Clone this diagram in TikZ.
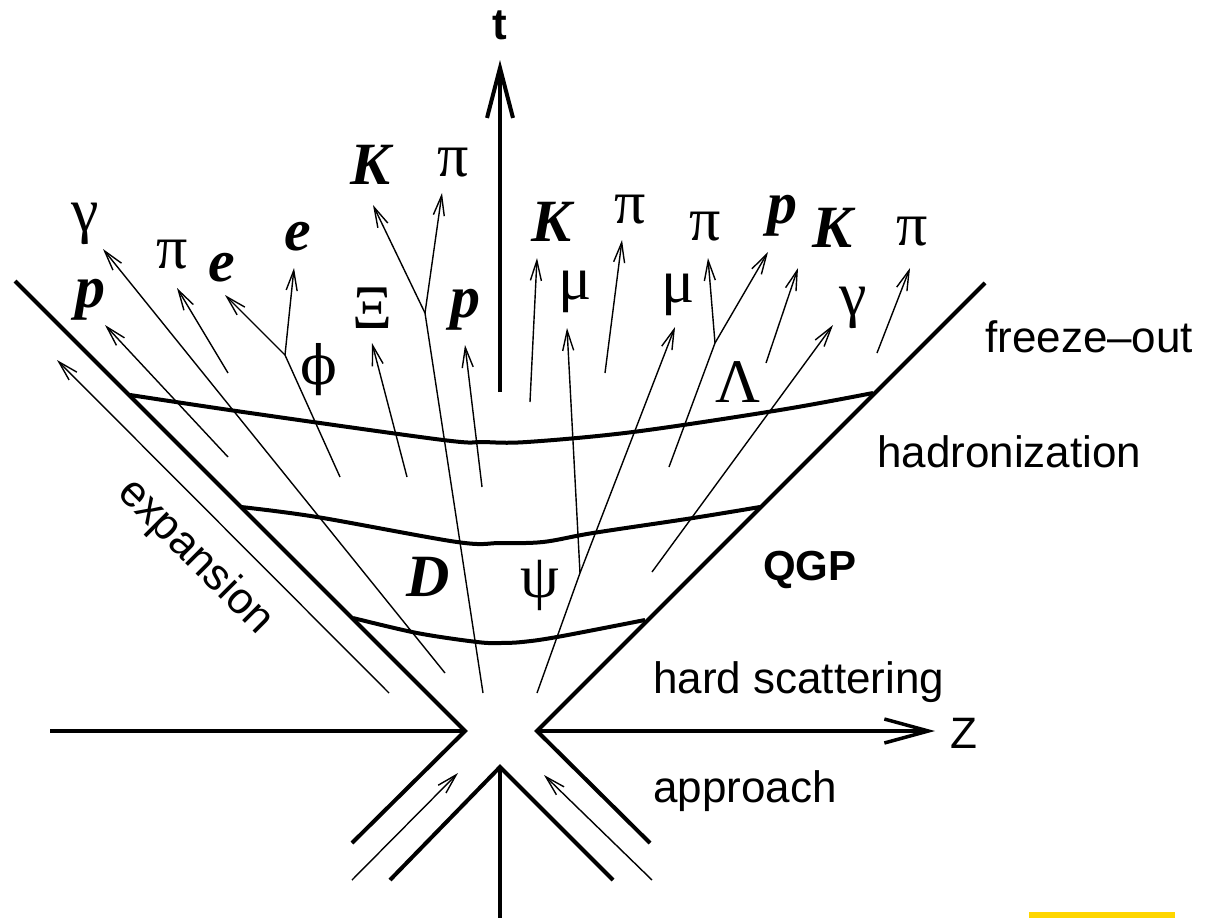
\documentclass[tikz,border=0pt]{standalone}
\usepackage{fontspec}
\setmainfont{Liberation Serif}
\setsansfont{Liberation Sans}
\newfontfamily\dvserif{DejaVu Serif}
\usetikzlibrary{arrows.meta}
\definecolor{gold}{RGB}{255,214,0}
\begin{document}
\begin{tikzpicture}[x=1pt,y=-1pt,
  wall/.style={line width=4pt},
  phase/.style={line width=4pt, smooth, tension=0.55},
  track/.style={line width=1.4pt},
  part/.style={line width=1.4pt, -{Straight Barb[length=20pt,width=11pt]}},
  greek/.style={font=\fontsize{62}{62}\selectfont, inner sep=0pt},
  bit/.style={font=\fontsize{60}{60}\selectfont\bfseries\itshape, inner sep=0pt},
  txt/.style={font=\sffamily\fontsize{44}{44}\selectfont, inner sep=0pt, anchor=base west}]
\useasboundingbox (0,0) rectangle (1205,918);
\fill[white] (0,0) rectangle (1205,918);
\fill[gold] (1029,912) rectangle (1175,918);

% axes
\coordinate (tb) at (500,392); \coordinate (tt) at (500,60);
\draw[line width=4pt, -{Straight Barb[length=50pt,width=26pt]}] (tb) -- (tt);
\node[font=\sffamily\bfseries\fontsize{44}{44}\selectfont, inner sep=0pt] (tlab) at (500,25) {t};
\coordinate (zl) at (50,731); \coordinate (zc1) at (465,731);
\coordinate (zc2) at (537,731); \coordinate (zt) at (935,731);
\draw[line width=3.5pt] (zl) -- (zc1);
\draw[line width=3.5pt, -{Straight Barb[length=44pt,width=24pt]}] (zc2) -- (zt);
\node[font=\sffamily\fontsize{44}{44}\selectfont, inner sep=0pt] (zlab) at (964,733) {Z};

% light cone
\coordinate (ltop) at (15,281); \coordinate (rtop) at (985,283);
\coordinate (lbot) at (352,843); \coordinate (rbot) at (650,843);
\draw[wall] (ltop) -- (zc1) -- (lbot);
\draw[wall] (rtop) -- (zc2) -- (rbot);
\coordinate (apex) at (500,767);
\coordinate (al) at (390,880); \coordinate (ar) at (613,880); \coordinate (ab) at (500,918);
\draw[wall] (al) -- (apex) -- (ar);
\draw[wall] (apex) -- (ab);

% phase boundaries
\draw[phase] plot coordinates {(130,395) (250,413) (443,440) (483,442) (527,442) (633,432) (780,410) (873,393)};
\draw[phase] plot coordinates {(241,507) (317,517) (457,542) (500,543) (543,542) (593,533) (693,518) (760,507)};
\draw[phase] plot coordinates {(353,618) (417,633) (477,642) (500,643) (522,642) (557,637) (645,620)};

% expansion / approach arrows
\coordinate (ex1) at (389,693); \coordinate (ex2) at (57,360);
\draw[part] (ex1) -- (ex2);
\coordinate (ap1) at (352,880); \coordinate (ap2) at (458,773);
\draw[part] (ap1) -- (ap2);
\coordinate (ap3) at (652,880); \coordinate (ap4) at (544,775);
\draw[part] (ap3) -- (ap4);

% particle tracks
\coordinate (g1) at (445,673); \coordinate (g2) at (103,249);
\draw[part] (g1) -- (g2);
\coordinate (p1) at (228,457); \coordinate (p2) at (105,325);
\draw[part] (p1) -- (p2);
\coordinate (pi1) at (228,373); \coordinate (pi2) at (177,288);
\draw[part] (pi1) -- (pi2);
\coordinate (phi0) at (340,477); \coordinate (phiv) at (285,355);
\draw[track] (phi0) -- (phiv);
\coordinate (e1) at (225,295); \coordinate (e2) at (294,268);
\draw[part] (phiv) -- (e1);
\draw[part] (phiv) -- (e2);
\coordinate (xi1) at (407,477); \coordinate (xi2) at (372,343);
\draw[part] (xi1) -- (xi2);
\coordinate (d0) at (483,693); \coordinate (dv) at (425,313);
\draw[track] (d0) -- (dv);
\coordinate (k1) at (373,205); \coordinate (pi3) at (442,193);
\draw[part] (dv) -- (k1);
\draw[part] (dv) -- (pi3);
\coordinate (pc1) at (482,487); \coordinate (pc2) at (465,345);
\draw[part] (pc1) -- (pc2);
\coordinate (kc1) at (530,402); \coordinate (kc2) at (537,258);
\draw[part] (kc1) -- (kc2);
\coordinate (psi0) at (537,693); \coordinate (psiv) at (580,573);
\draw[track] (psi0) -- (psiv);
\coordinate (mu1) at (567,328); \coordinate (mu2) at (675,327);
\draw[part] (psiv) -- (mu1);
\draw[part] (psiv) -- (mu2);
\coordinate (pi4a) at (605,373); \coordinate (pi4b) at (622,240);
\draw[part] (pi4a) -- (pi4b);
\coordinate (lam0) at (669,467); \coordinate (lamv) at (715,343);
\draw[track] (lam0) -- (lamv);
\coordinate (pi5) at (708,258); \coordinate (pr) at (768,252);
\draw[part] (lamv) -- (pi5);
\draw[part] (lamv) -- (pr);
\coordinate (kr1) at (766,363); \coordinate (kr2) at (798,268);
\draw[part] (kr1) -- (kr2);
\coordinate (gr1) at (652,572); \coordinate (gr2) at (833,325);
\draw[part] (gr1) -- (gr2);
\coordinate (pif1) at (877,353); \coordinate (pif2) at (910,268);
\draw[part] (pif1) -- (pif2);

% particle labels
\node[greek] (lgam) at (85,224) {γ};
\node[bit] (lp) at (90,300) {p};
\node[greek] (lpi) at (172,255) {π};
\node[bit] (le1) at (222,268) {e};
\node[bit] (le2) at (298,237) {e};
\node[greek, font=\dvserif\fontsize{54}{54}\selectfont] (lphi) at (319,370) {ϕ};
\node[greek] (lxi) at (372,308) {Ξ};
\node[bit] (lk1) at (371,165) {K};
\node[greek] (lpi2) at (453,163) {π};
\node[bit] (lpc) at (465,310) {p};
\node[bit] (lkc) at (552,222) {K};
\node[greek] (lmu1) at (575,292) {μ};
\node[greek] (lpi3) at (630,210) {π};
\node[greek] (lmu2) at (678,295) {μ};
\node[greek] (lpi4) at (705,227) {π};
\node[bit] (lpr) at (782,216) {p};
\node[bit] (lkr) at (833,228) {K};
\node[greek] (lpi5) at (912,232) {π};
\node[greek] (lgr) at (853,308) {γ};
\node[greek] (llam) at (738,382) {Λ};
\node[bit] (ld) at (428,577) {D};
\node[greek] (lpsi) at (540,585) {ψ};

% stage labels
\node[txt] (fo) at (985,352) {freeze–out};
\node[txt] (hd) at (877,467) {hadronization};
\node[txt, font=\sffamily\bfseries\fontsize{42}{42}\selectfont] (qgp) at (763,580) {QGP};
\node[txt] (hs) at (653,693) {hard scattering};
\node[txt] (appr) at (653,802) {approach};
\node[font=\sffamily\fontsize{44}{44}\selectfont, inner sep=0pt, rotate=-45] (exp) at (195,557) {expansion};
\end{tikzpicture}
\end{document}
